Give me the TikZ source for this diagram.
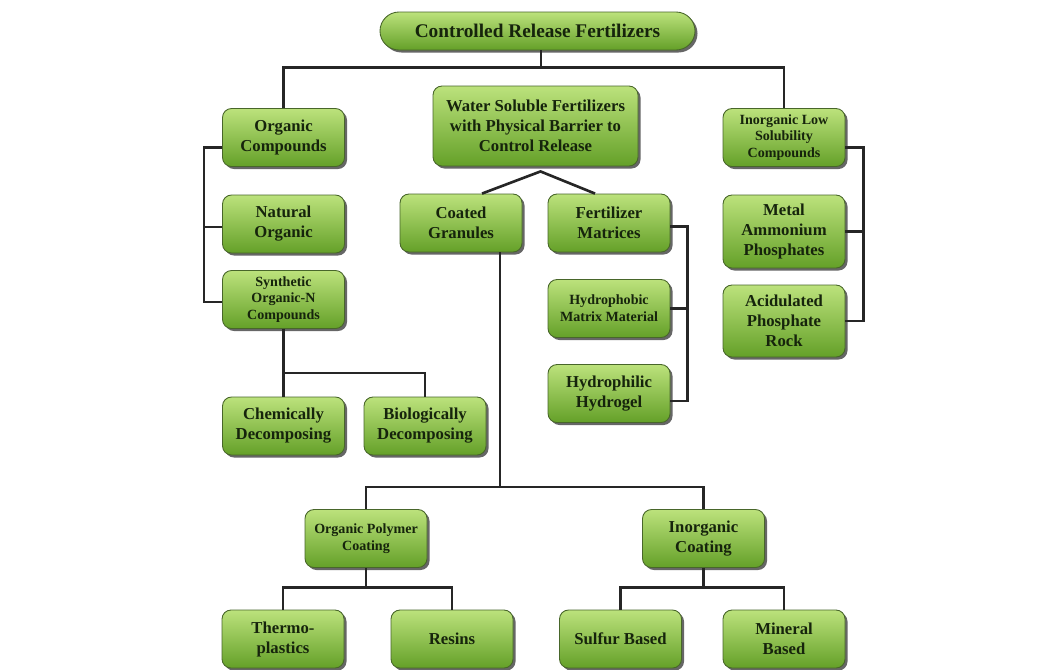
\documentclass[tikz,border=0pt]{standalone}
\usepackage{fontspec}
\setmainfont{Liberation Serif}
\usetikzlibrary{positioning,shadows}
\definecolor{boxtop}{RGB}{188,226,124}
\definecolor{boxbot}{RGB}{100,160,40}
\definecolor{boxline}{RGB}{72,102,42}
\definecolor{boxtext}{RGB}{22,36,12}
\tikzstyle{box}=[draw=boxline, line width=.5pt, rounded corners=1.8mm,
  top color=boxtop, bottom color=boxbot,
  drop shadow={shadow xshift=.5mm, shadow yshift=-.5mm, fill=black!75, opacity=.8},
  minimum width=2.44cm, minimum height=1.16cm, inner sep=1pt, align=center,
  text=boxtext, font=\bfseries\fontsize{9.5}{11.4}\selectfont]
\tikzstyle{small}=[font=\bfseries\fontsize{8}{9.5}\selectfont]
\tikzstyle{link}=[line width=1.5pt, black!85]

\begin{document}
\begin{tikzpicture}[node distance=1cm, on grid]
  \useasboundingbox (0,0) rectangle (21.16,-13.38);

  \node[box, minimum width=6.3cm, minimum height=.76cm, rounded corners=3.8mm,
    font=\bfseries\fontsize{11}{13}\selectfont] (0) at (10.75,-.62)
    {Controlled Release Fertilizers};

  % organic
  \node[box] (1) at (5.67,-2.75) {Organic\\Compounds};
  \node[box, below=1.73cm of 1] (1-1) {Natural\\Organic};
  \node[box, small, below=1.51cm of 1-1] (1-2) {Synthetic\\Organic-N\\Compounds};
  \node[box, below=2.53cm of 1-2] (1-2-1) {Chemically\\Decomposing};
  \node[box, right=2.83cm of 1-2-1] (1-2-2) {Biologically\\Decomposing};

  % physical barrier
  \node[box, minimum width=4.1cm, minimum height=1.6cm] (2) at (10.71,-2.52)
    {Water Soluble Fertilizers\\with Physical Barrier to\\Control Release};
  \node[box] (2-1) at (9.22,-4.46) {Coated\\Granules};
  \node[box, right=2.96cm of 2-1] (2-2) {Fertilizer\\Matrices};
  \node[box, small, below=1.71cm of 2-2] (2-2-1) {Hydrophobic\\Matrix Material};
  \node[box, below=1.70cm of 2-2-1] (2-2-2) {Hydrophilic\\Hydrogel};

  \node[box, small] (2-1-1) at (7.32,-10.77) {Organic Polymer\\Coating};
  \node[box, right=6.75cm of 2-1-1] (2-1-2) {Inorganic\\Coating};
  \node[box] (2-1-1-1) at (5.66,-12.78) {Thermo-\\plastics};
  \node[box, right=3.38cm of 2-1-1-1] (2-1-1-2) {Resins};
  \node[box, right=3.37cm of 2-1-1-2] (2-1-2-1) {Sulfur Based};
  \node[box, right=3.27cm of 2-1-2-1] (2-1-2-2) {Mineral\\Based};

  % low solubility
  \node[box, small] (3) at (15.68,-2.75) {Inorganic Low\\Solubility\\Compounds};
  \node[box, minimum height=1.46cm, below=1.88cm of 3] (3-1) {Metal\\Ammonium\\Phosphates};
  \node[box, minimum height=1.44cm, below=1.79cm of 3-1] (3-2) {Acidulated\\Phosphate\\Rock};

  \draw[link] ([xshift=.07cm]0.south) -- ++(0,-.34) coordinate (0-j);
  \draw[link] (1.north) |- (0-j) -| (3.north);

  \draw[link] ([yshift=-2mm]1.west) -- ++(-.36,0) |- ([yshift=-.05cm]1-2.west);
  \draw[link] ([yshift=-.06cm]1-1.west) -- ++(-.36,0);
  \draw[link] (1-2.south) -- ++(0,-.88) coordinate (1-2-j) -| (1-2-2.north);
  \draw[link] (1-2-j) -- (1-2-1.north);

  \draw[link] ([xshift=.42cm]2-1.north) -- ([xshift=.1cm,yshift=-.1cm]2.south)
    -- ([xshift=-.28cm]2-2.north);
  \draw[link] ([yshift=-.07cm]2-2.east) -- ++(.34,0) |- ([yshift=-.15cm]2-2-2.east);
  \draw[link] (2-2-1.east) -- ++(.34,0);

  \draw[link] ([xshift=.78cm]2-1.south) -- ++(0,-4.69) coordinate (2-1-j);
  \draw[link] (2-1-1.north) |- (2-1-j) -| (2-1-2.north);
  \draw[link] (2-1-1.south) -- ++(0,-.39) coordinate (2-1-1-j);
  \draw[link] (2-1-1-1.north) |- (2-1-1-j) -| (2-1-1-2.north);
  \draw[link] (2-1-2.south) -- ++(0,-.39) coordinate (2-1-2-j);
  \draw[link] (2-1-2-1.north) |- (2-1-2-j) -| (2-1-2-2.north);

  \draw[link] ([yshift=-.2cm]3.east) -- ++(.36,0) |- (3-2.east);
  \draw[link] (3-1.east) -- ++(.36,0);
\end{tikzpicture}
\end{document}
